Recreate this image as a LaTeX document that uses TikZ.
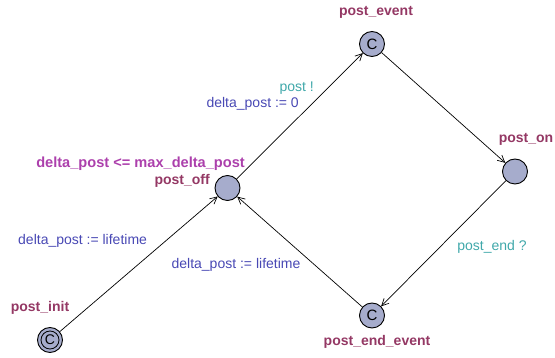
\documentclass[tikz,border=0pt]{standalone}
\usepackage{fontspec}
\setmainfont{Liberation Sans}
\usetikzlibrary{arrows.meta}
\definecolor{locname}{RGB}{148,56,100}
\definecolor{invcol}{RGB}{172,64,172}
\definecolor{synccol}{RGB}{64,168,170}
\definecolor{updcol}{RGB}{72,72,180}
\definecolor{locfill}{RGB}{166,172,204}
\tikzset{
  loc/.style={circle,draw=black,line width=0.9pt,fill=locfill,minimum size=25pt,inner sep=0pt,font=\fontsize{15}{15}\selectfont},
  nm/.style={text=locname,font=\fontsize{14}{16}\selectfont\bfseries,inner sep=0pt},
  inv/.style={text=invcol,font=\fontsize{14.6}{16}\selectfont\bfseries,inner sep=0pt},
  syn/.style={text=synccol,font=\fontsize{14}{16}\selectfont,inner sep=0pt},
  upd/.style={text=updcol,font=\fontsize{14}{16}\selectfont,inner sep=0pt},
  edge/.style={draw=black,line width=0.7pt,-{Straight Barb[length=7pt,width=7pt]}}
}
\begin{document}
\begin{tikzpicture}[x=1pt,y=-1pt]
\useasboundingbox (0,0) rectangle (555,358);
% locations
\node[loc] (init) at (50,340) {};
\draw[line width=0.8pt] (init.center) circle (9pt);
\node[font=\fontsize{14}{14}\selectfont] (initc) at (50,340) {C};
\node[loc] (off) at (227.5,188) {};
\node[loc] (event) at (372,44) {C};
\node[loc] (on) at (515,171.5) {};
\node[loc] (endev) at (372,315.5) {C};
% names
\node[nm] (ninit) at (40,308) {post\_init};
\node[nm] (nevent) at (376,12) {post\_event};
\node[nm,anchor=east] (noff) at (210,181) {post\_off};
\node[inv,anchor=east] (ioff) at (245,164) {delta\_post <= max\_delta\_post};
\node[nm] (non) at (526,139) {post\_on};
\node[nm] (nendev) at (377,342) {post\_end\_event};
% edges
\draw[edge] (init) -- (off);
\draw[edge] (off) -- (event);
\draw[edge] (event) -- (on);
\draw[edge] (on) -- (endev);
\draw[edge] (endev) -- (off);
% labels
\node[upd,anchor=west] (u1) at (18,241) {delta\_post := lifetime};
\node[syn,anchor=east] (s1) at (314,88) {post !};
\node[upd,anchor=east] (u2) at (299,104) {delta\_post := 0};
\node[upd] (u3) at (236,265) {delta\_post := lifetime};
\node[syn] (s2) at (492,247) {post\_end ?};
\end{tikzpicture}
\end{document}
